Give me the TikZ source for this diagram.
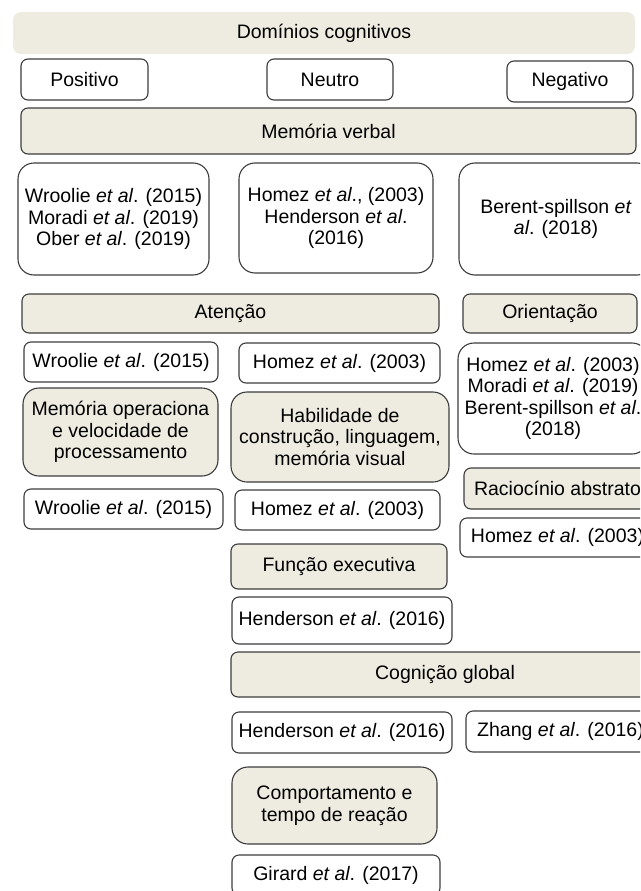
\documentclass[tikz,border=0pt]{standalone}
\usepackage{fontspec}
\setmainfont{Liberation Sans}
\usepackage{tikz}
\definecolor{boxfill}{HTML}{EEECE1}
\definecolor{boxline}{HTML}{3C3C3C}

\begin{document}
\begin{tikzpicture}[x=1pt,y=-1pt,font=\fontsize{19.5}{21.5}\selectfont,
    topicbox/.style={draw=boxline,line width=1.1pt,fill=boxfill,rounded corners=7pt,inner sep=2pt,align=center},
    refbox/.style={draw=boxline,line width=1.1pt,fill=white,rounded corners=7pt,inner sep=2pt,align=center},
    tallbox/.style={rounded corners=16pt}]
        \useasboundingbox (0, 0) rectangle (640, 891);
        \clip (0, 0) rectangle (640, 891);
        \node[fill=boxfill,rounded corners=8pt,minimum width=622pt,minimum height=42pt] (title) at (324, 33) {Domínios cognitivos};
        \node[refbox,minimum width=127pt,minimum height=41pt] (pos) at (84.5, 79.5) {Positivo};
        \node[refbox,minimum width=126pt,minimum height=41pt] (neu) at (330, 79.5) {Neutro};
        \node[refbox,minimum width=126pt,minimum height=41pt] (neg) at (570, 81.5) {Negativo};
        \node[topicbox,minimum width=615pt,minimum height=46pt] (memverb) at (328.5, 131) {Memória verbal};
        \node[refbox,tallbox,minimum width=191pt,minimum height=112pt] (memverbpos) at (113.5, 219) {Wroolie \textit{et al}. (2015)\\Moradi \textit{et al}. (2019)\\Ober \textit{et al}. (2019)};
        \node[refbox,tallbox,minimum width=194pt,minimum height=110pt] (memverbneu) at (336, 218) {Homez \textit{et al}., (2003)\\Henderson \textit{et al}.\\(2016)};
        \node[refbox,tallbox,minimum width=194pt,minimum height=112pt] (memverbneg) at (556, 219) {Berent-spillson \textit{et}\\\textit{al}. (2018)};
        \node[topicbox,minimum width=417pt,minimum height=39pt] (aten) at (230.5, 313.5) {Atenção};
        \node[topicbox,minimum width=174pt,minimum height=39pt] (orient) at (550, 313.5) {Orientação};
        \node[refbox,minimum width=194pt,minimum height=40pt] (atenpos) at (121, 362) {Wroolie \textit{et al}. (2015)};
        \node[refbox,minimum width=201pt,minimum height=40pt] (atenneu) at (339.5, 363) {Homez \textit{et al}. (2003)};
        \node[refbox,tallbox,minimum width=190pt,minimum height=111pt] (orientneg) at (553, 398.5) {Homez \textit{et al}. (2003)\\Moradi \textit{et al}. (2019)\\Berent-spillson \textit{et al}.\\(2018)};
        \node[topicbox,tallbox,minimum width=195pt,minimum height=88pt] (memop) at (120.5, 432) {Memória operaciona\\e velocidade de\\processamento};
        \node[topicbox,tallbox,minimum width=218pt,minimum height=90pt] (habil) at (340, 437) {Habilidade de\\construção, linguagem,\\memória visual};
        \node[topicbox,minimum width=187pt,minimum height=41pt] (racioc) at (557.5, 488.5) {Raciocínio abstrato};
        \node[refbox,minimum width=199pt,minimum height=40pt] (memoppos) at (123.5, 509) {Wroolie \textit{et al}. (2015)};
        \node[refbox,minimum width=205pt,minimum height=40pt] (habilneu) at (337.5, 510) {Homez \textit{et al}. (2003)};
        \node[refbox,minimum width=195pt,minimum height=39pt] (raciocneg) at (557.5, 537.5) {Homez \textit{et al}. (2003)};
        \node[topicbox,minimum width=216pt,minimum height=45pt] (funcexec) at (339, 566.5) {Função executiva};
        \node[refbox,minimum width=220pt,minimum height=47pt] (funcexecneu) at (342, 620.5) {Henderson \textit{et al}. (2016)};
        \node[topicbox,minimum width=428pt,minimum height=45pt] (cogglob) at (445, 674.5) {Cognição global};
        \node[refbox,minimum width=220pt,minimum height=41pt] (cogglobneu) at (342, 732.5) {Henderson \textit{et al}. (2016)};
        \node[refbox,minimum width=189pt,minimum height=41pt] (cogglobneg) at (560.5, 731.5) {Zhang \textit{et al}. (2016)};
        \node[topicbox,tallbox,minimum width=205pt,minimum height=77pt] (comport) at (334.5, 805.5) {Comportamento e\\tempo de reação};
        \node[refbox,minimum width=208pt,minimum height=40pt] (comportneu) at (336, 875) {Girard \textit{et al}. (2017)};
    \end{tikzpicture}
\end{document}
